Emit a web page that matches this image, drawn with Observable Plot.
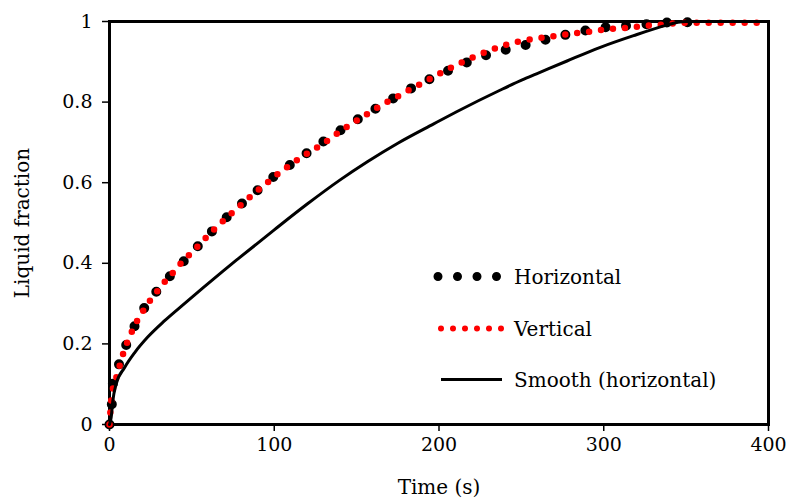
<!DOCTYPE html>
<html>
<head>
<meta charset="utf-8">
<script src="https://cdn.jsdelivr.net/npm/d3@7"></script>
<script src="https://cdn.jsdelivr.net/npm/@observablehq/plot@0.6"></script>
<style>
  html, body { margin: 0; padding: 0; background: #fff; }
  #chart { width: 787px; height: 501px; }
</style>
</head>
<body>
<div id="chart"></div>
<script>
// Time (s) and liquid fraction
const horizontalT = [0, 1.4, 2.0, 6.0, 10.5, 15.8, 22.0, 29.3, 37.8, 46.6, 55.2, 63.8, 72.9, 82.6, 92.2, 101.8, 111.9, 122.4, 132.9, 143.6, 154.1, 165.0, 175.9, 187.3, 198.6, 209.9, 221.4, 233.1, 245.5, 258.0, 270.4, 282.7, 295.2, 307.3, 319.8, 332.5, 345.0, 358.0];
const horizontalF = [0, 0.05, 0.10, 0.152, 0.201, 0.249, 0.295, 0.334, 0.373, 0.412, 0.449, 0.486, 0.521, 0.556, 0.589, 0.622, 0.651, 0.681, 0.711, 0.739, 0.766, 0.792, 0.818, 0.843, 0.865, 0.886, 0.906, 0.922, 0.935, 0.947, 0.961, 0.972, 0.983, 0.988, 0.991, 0.996, 0.998, 0.998];

const verticalT = [0, 0.5, 1.0, 2.0, 4.1, 6.1, 8.1, 10.5, 13.2, 16.2, 19.8, 23.8, 28.3, 32.7, 37.4, 41.8, 46.7, 51.9, 56.8, 62.0, 67.1, 72.7, 77.8, 83.2, 88.5, 94.0, 99.6, 105.5, 111.5, 117.2, 123.2, 129.2, 135.3, 140.7, 147.0, 153.0, 159.1, 165.2, 171.4, 177.7, 184.0, 190.2, 196.8, 202.9, 209.5, 215.8, 222.3, 228.8, 235.3, 242.0, 249.1, 256.2, 263.2, 270.3, 277.4, 284.4, 291.5, 299.0, 306.1, 313.2, 320.2, 327.5, 334.4, 341.6, 348.7, 360, 380, 400];
const verticalF = [0, 0.03, 0.058, 0.087, 0.116, 0.145, 0.173, 0.201, 0.227, 0.253, 0.278, 0.303, 0.327, 0.350, 0.371, 0.393, 0.414, 0.435, 0.456, 0.478, 0.498, 0.519, 0.538, 0.557, 0.576, 0.594, 0.613, 0.632, 0.649, 0.666, 0.680, 0.696, 0.713, 0.730, 0.746, 0.762, 0.777, 0.793, 0.806, 0.820, 0.835, 0.848, 0.863, 0.876, 0.890, 0.902, 0.914, 0.925, 0.935, 0.944, 0.951, 0.956, 0.960, 0.964, 0.968, 0.972, 0.975, 0.979, 0.982, 0.984, 0.987, 0.990, 0.992, 0.995, 0.997, 0.997, 0.997, 0.997];

const smoothT = [0, 1.0, 2.0, 4.0, 9.1, 15.2, 23.2, 33.3, 45.5, 57.6, 68.7, 78.0, 100, 120, 140, 156.5, 175, 196.8, 210.7, 237.3, 250.5, 259.2, 277.7, 297.9, 318.1, 338.3, 345, 350, 400];
const smoothF = [0, 0.017, 0.058, 0.100, 0.141, 0.178, 0.217, 0.257, 0.300, 0.342, 0.380, 0.411, 0.483, 0.547, 0.607, 0.652, 0.698, 0.746, 0.776, 0.830, 0.855, 0.870, 0.902, 0.936, 0.965, 0.991, 0.998, 1.0, 1.0];

const xTicks = [0, 100, 200, 300, 400];
const yTicks = [0, 0.2, 0.4, 0.6, 0.8, 1];
const seriesNames = ["Horizontal", "Vertical", "Smooth (horizontal)"];
const xLabel = "Time (s)";
const yLabel = "Liquid fraction";

const toRows = (ts, fs) => ts.map((t, i) => ({t, f: fs[i]}));
const horizontal = toRows(horizontalT, horizontalF);
const vertical = toRows(verticalT, verticalF);
const smooth = toRows(smoothT, smoothF);

const FONT = "DejaVu Serif";

const chart = Plot.plot({
  width: 787,
  height: 501,
  marginLeft: 109,
  marginRight: 19,
  marginTop: 21,
  marginBottom: 77,
  style: {fontFamily: FONT, fontSize: "19px", color: "#000", background: "#fff", overflow: "visible"},
  x: {domain: [0, 400]},
  y: {domain: [0, 1]},
  marks: [
    Plot.axisX({ticks: xTicks, tickSize: 7, tickPadding: 6, strokeWidth: 1.5, label: null, tickFormat: d => String(d), fontSize: 19}),
    Plot.axisY({ticks: yTicks, tickSize: 7, tickPadding: 10, strokeWidth: 1.5, label: null, tickFormat: d => String(d), fontSize: 19}),
    Plot.frame({stroke: "#000", strokeWidth: 3}),
    Plot.line(horizontal, {x: "t", y: "f", stroke: "#000", strokeWidth: 10, strokeDasharray: "0,20.5", strokeLinecap: "round", curve: "monotone-x"}),
    Plot.line(vertical, {x: "t", y: "f", stroke: "#ff0000", strokeWidth: 6.5, strokeDasharray: "0,12", strokeLinecap: "round", curve: "monotone-x"}),
    Plot.line(smooth, {x: "t", y: "f", stroke: "#000", strokeWidth: 3, curve: "monotone-x"}),
    Plot.text([xLabel], {text: d => d, frameAnchor: "bottom", dy: 69, textAnchor: "middle", fontSize: 20}),
    Plot.text([yLabel], {text: d => d, frameAnchor: "left", dx: -87, rotate: -90, textAnchor: "middle", fontSize: 20})
  ]
});

// Legend (inside the plot area, as in the reference)
const svg = d3.select(chart);
const lg = svg.append("g").attr("font-family", FONT).attr("font-size", 20).attr("text-anchor", "start");
const legendItems = [
  {name: seriesNames[0], y: 276.5, x1: 438, x2: 497, stroke: "#000", w: 9, dash: "0,19.5"},
  {name: seriesNames[1], y: 328.5, x1: 441, x2: 502, stroke: "#ff0000", w: 6, dash: "0,12"},
  {name: seriesNames[2], y: 379.5, x1: 441, x2: 502, stroke: "#000", w: 3, dash: null}
];
legendItems.forEach(it => {
  const ln = lg.append("line")
    .attr("x1", it.x1).attr("x2", it.x2).attr("y1", it.y).attr("y2", it.y)
    .attr("stroke", it.stroke).attr("stroke-width", it.w);
  if (it.dash) ln.attr("stroke-dasharray", it.dash).attr("stroke-linecap", "round");
  lg.append("text").attr("x", 514).attr("y", it.y + 7).attr("fill", "#000").attr("text-anchor", "start").text(it.name);
});

document.getElementById("chart").appendChild(chart);
</script>
</body>
</html>
